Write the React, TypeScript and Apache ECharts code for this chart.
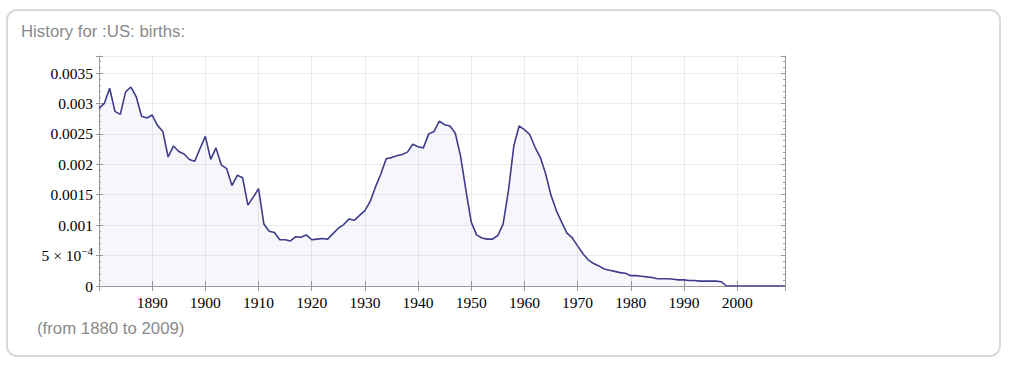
import React, { useEffect, useRef } from "react";
import * as echarts from "echarts";

const TITLE = "History for :US: births:";
const FOOTER = "(from 1880 to 2009)";
const START_YEAR = 1880;
const X_MIN = 1880;
const X_MAX = 2009;
const Y_MAX = 0.00378;
const X_TICK = 10;
const Y_TICK = 0.0005;

const births: number[] = [
  0.00292, 0.003, 0.00325, 0.00287, 0.00282, 0.00319, 0.00327, 0.00311, 0.00279, 0.00276,
  0.00281, 0.00264, 0.00254, 0.00212, 0.0023, 0.00221, 0.00217, 0.00208, 0.00205, 0.00226,
  0.00246, 0.00208, 0.00227, 0.00199, 0.00193, 0.00165, 0.00182, 0.00178, 0.00133, 0.00146,
  0.0016, 0.00102, 0.0009, 0.00088, 0.00076, 0.00076, 0.00074, 0.00081, 0.0008, 0.00084,
  0.00076, 0.00077, 0.00078, 0.00077, 0.00086, 0.00095, 0.00101, 0.0011, 0.00108, 0.00116,
  0.00124, 0.00139, 0.00163, 0.00184, 0.00209, 0.00211, 0.00214, 0.00216, 0.0022, 0.00233,
  0.00229, 0.00227, 0.0025, 0.00254, 0.00271, 0.00265, 0.00263, 0.00251, 0.00213, 0.00157,
  0.00105, 0.00084, 0.00079, 0.00077, 0.00077, 0.00083, 0.00102, 0.00157, 0.0023, 0.00263,
  0.00257, 0.00249, 0.00228, 0.00211, 0.00184, 0.00149, 0.00124, 0.00105, 0.00087, 0.00079,
  0.00066, 0.00053, 0.00043, 0.00037, 0.00033, 0.00028, 0.00026, 0.00024, 0.00022, 0.00021,
  0.00017, 0.00017, 0.00016, 0.00015, 0.00014, 0.00012, 0.00012, 0.00012, 0.00011, 0.0001,
  0.0001, 0.00009, 0.00009, 0.00008, 0.00008, 0.00008, 0.00008, 0.00007, 0, 0,
  0, 0, 0, 0, 0, 0, 0, 0, 0, 0,
];

const years: number[] = births.map((_, i) => START_YEAR + i);

const SERIF = "'Liberation Serif', 'DejaVu Serif', serif";
const SANS = "'Liberation Sans', Arial, sans-serif";
const FRAME = "#9a9a9a";
const GRIDLINE = "#ececec";

function yLabel(v: number): string {
  const r = parseFloat(v.toFixed(5));
  if (r === 0) return "0";
  if (Math.abs(r - 0.0005) < 1e-9) return "{a|5 × 10}{b|−4}";
  return String(r);
}

export default function App() {
  const ref = useRef<HTMLDivElement>(null);
  useEffect(() => {
    if (!ref.current) return;
    const chart = echarts.init(ref.current, undefined, { renderer: "svg" });
    const tickStyle = { color: FRAME, width: 1 };
    chart.setOption({
      animation: false,
      backgroundColor: "#ffffff",
      grid: { left: 99, right: 227, top: 56, bottom: 96, containLabel: false },
      graphic: [
        {
          type: "rect",
          shape: { x: 7, y: 10, width: 993, height: 346, r: 10 },
          style: { fill: "none", stroke: "#d9d9d9", lineWidth: 2 },
          z: -10,
        },
        {
          type: "text",
          x: 21,
          y: 23,
          style: { text: TITLE, fill: "#8a8a8a", font: `16.8px ${SANS}` },
        },
        {
          type: "text",
          x: 37,
          y: 320,
          style: { text: FOOTER, fill: "#8a8a8a", font: `16.8px ${SANS}` },
        },
      ],
      xAxis: [
        {
          type: "value",
          position: "bottom",
          min: X_MIN,
          max: X_MAX,
          interval: X_TICK,
          axisLine: { show: true, lineStyle: { color: FRAME } },
          axisTick: { show: true, inside: true, length: 5, lineStyle: tickStyle },
          axisLabel: {
            show: true,
            showMinLabel: false,
            showMaxLabel: false,
            margin: 8,
            color: "#000",
            fontFamily: SERIF,
            fontSize: 15.5,
            formatter: (v: number) => String(v),
          },
          splitLine: { show: true, lineStyle: { color: GRIDLINE } },
        },
        {
          type: "value",
          position: "top",
          min: X_MIN,
          max: X_MAX,
          interval: X_TICK,
          axisLine: { show: true, lineStyle: { color: FRAME } },
          axisTick: { show: true, inside: true, length: 5, lineStyle: tickStyle },
          axisLabel: { show: false },
          splitLine: { show: false },
        },
      ],
      yAxis: [
        {
          type: "value",
          position: "left",
          min: 0,
          max: Y_MAX,
          interval: Y_TICK,
          axisLine: { show: true, lineStyle: { color: FRAME } },
          axisTick: { show: true, inside: true, length: 4, lineStyle: tickStyle },
          minorTick: { show: true, splitNumber: 5, length: 2, lineStyle: tickStyle },
          axisLabel: {
            show: true,
            showMaxLabel: false,
            margin: 6,
            color: "#000",
            fontFamily: SERIF,
            fontSize: 15.5,
            formatter: yLabel,
            rich: {
              a: { fontFamily: SERIF, fontSize: 15.5, color: "#000" },
              b: { fontFamily: SERIF, fontSize: 11, color: "#000", padding: [0, 0, 10, 0] },
            },
          },
          splitLine: { show: true, lineStyle: { color: GRIDLINE } },
        },
        {
          type: "value",
          position: "right",
          min: 0,
          max: Y_MAX,
          interval: Y_TICK,
          axisLine: { show: true, lineStyle: { color: FRAME } },
          axisTick: { show: true, inside: true, length: 4, lineStyle: tickStyle },
          minorTick: { show: true, splitNumber: 5, length: 2, lineStyle: tickStyle },
          axisLabel: { show: false },
          splitLine: { show: false },
        },
        {
          type: "value",
          position: "left",
          min: 0,
          max: Y_MAX,
          interval: Y_TICK,
          axisLine: { show: false },
          axisTick: { show: true, inside: false, length: 3, lineStyle: tickStyle },
          axisLabel: { show: false },
          splitLine: { show: false },
        },
      ],
      series: [
        {
          type: "line",
          xAxisIndex: 0,
          yAxisIndex: 0,
          data: years.map((y, i) => [y, births[i]]),
          showSymbol: false,
          symbol: "none",
          lineStyle: { color: "#3e3c8c", width: 1.6 },
          areaStyle: { color: "rgba(70,70,160,0.07)", origin: "start" },
          z: 3,
        },
      ],
    });
    return () => chart.dispose();
  }, []);
  return (
    <div
      ref={ref}
      style={{ position: "absolute", left: 0, top: 0, width: 1012, height: 382 }}
    />
  );
}
